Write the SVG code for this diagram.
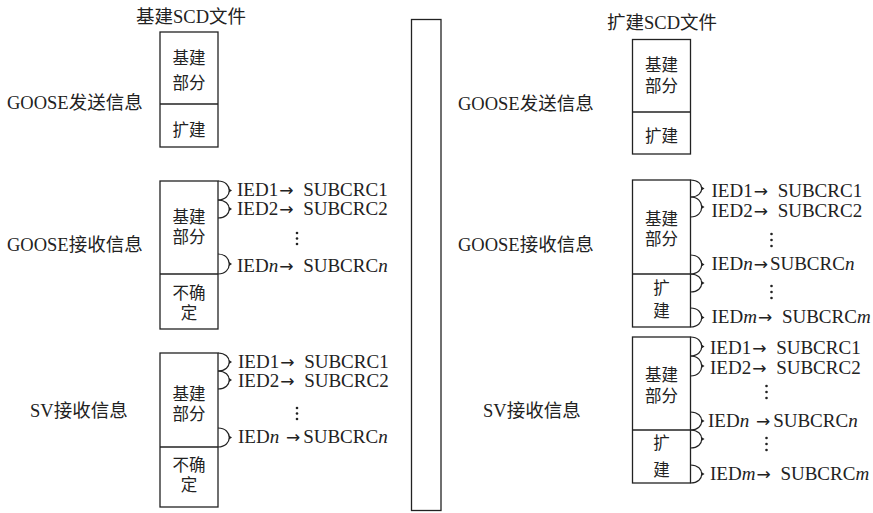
<svg xmlns="http://www.w3.org/2000/svg" width="873" height="513" viewBox="0 0 873 513">
<style>
.bg{fill:#fff}
.box{fill:#fff;stroke:#222;stroke-width:1.3}
.ln{fill:none;stroke:#222;stroke-width:1.3}
.br{fill:none;stroke:#222;stroke-width:1.2}
.tip{fill:#222}
.dot{fill:#222}
text{font-family:"Liberation Serif","Times New Roman","DejaVu Serif","Noto Sans CJK SC",serif;fill:#222}
.lab{font-size:18.5px}
.bx{font-size:16.5px;text-anchor:middle}
.ied{font-size:19px}
.it{font-style:italic}
.ar{font-family:"DejaVu Sans",sans-serif;font-size:17px}
</style>
<defs>
<path id="tipL" d="M0,-2 L3,0 L0,2 z"/>
</defs>
<rect class="bg" x="0" y="0" width="873" height="513"/>

<g id="title-left"><text class="lab" x="191" y="23" text-anchor="middle">基建SCD文件</text></g>
<g id="title-right"><text class="lab" x="662" y="29" text-anchor="middle">扩建SCD文件</text></g>

<g id="middle-bar"><rect class="box" x="411.5" y="19.5" width="29.5" height="491"/></g>

<g id="left-goose-send-label"><text class="lab" x="7" y="109">GOOSE发送信息</text></g>
<g id="left-goose-recv-label"><text class="lab" x="7" y="251">GOOSE接收信息</text></g>
<g id="left-sv-recv-label"><text class="lab" x="30" y="417">SV接收信息</text></g>
<g id="right-goose-send-label"><text class="lab" x="458" y="110">GOOSE发送信息</text></g>
<g id="right-goose-recv-label"><text class="lab" x="458" y="251">GOOSE接收信息</text></g>
<g id="right-sv-recv-label"><text class="lab" x="483" y="417">SV接收信息</text></g>

<g id="left-goose-send">
<rect class="box" x="160" y="32" width="58" height="115"/>
<line class="ln" x1="160" y1="104" x2="218" y2="104"/>
<text class="bx" x="189" y="64">基建</text>
<text class="bx" x="189" y="89">部分</text>
<text class="bx" x="189" y="136">扩建</text>
</g>

<g id="left-goose-recv">
<rect class="box" x="160" y="181" width="58" height="148"/>
<line class="ln" x1="160" y1="274" x2="218" y2="274"/>
<text class="bx" x="189" y="222.5">基建</text>
<text class="bx" x="189" y="242.5">部分</text>
<text class="bx" x="189" y="299">不确</text>
<text class="bx" x="189" y="319">定</text>
</g>

<g id="left-sv-recv">
<rect class="box" x="160" y="353" width="58" height="154"/>
<line class="ln" x1="160" y1="447" x2="218" y2="447"/>
<text class="bx" x="189" y="400">基建</text>
<text class="bx" x="189" y="420">部分</text>
<text class="bx" x="189" y="471">不确</text>
<text class="bx" x="189" y="491">定</text>
</g>

<g id="right-goose-send">
<rect class="box" x="632.5" y="39.5" width="58" height="114.5"/>
<line class="ln" x1="632.5" y1="112" x2="690.5" y2="112"/>
<text class="bx" x="661.5" y="71">基建</text>
<text class="bx" x="661.5" y="92">部分</text>
<text class="bx" x="661.5" y="142">扩建</text>
</g>

<g id="right-goose-recv">
<rect class="box" x="632.5" y="180" width="58" height="147"/>
<line class="ln" x1="632.5" y1="274" x2="690.5" y2="274"/>
<text class="bx" x="661.5" y="225">基建</text>
<text class="bx" x="661.5" y="245">部分</text>
<text class="bx" x="661.5" y="294">扩</text>
<text class="bx" x="661.5" y="317">建</text>
</g>

<g id="right-sv-recv">
<rect class="box" x="632.5" y="337" width="58" height="146"/>
<line class="ln" x1="632.5" y1="430" x2="690.5" y2="430"/>
<text class="bx" x="661.5" y="381">基建</text>
<text class="bx" x="661.5" y="402">部分</text>
<text class="bx" x="661.5" y="449">扩</text>
<text class="bx" x="661.5" y="476">建</text>
</g>

<g id="left-goose-map">
<text class="ied" x="237" y="196">IED1<tspan class="ar" dx="1">→</tspan><tspan dx="5"> SUBCRC1</tspan></text>
<text class="ied" x="237" y="215">IED2<tspan class="ar" dx="1">→</tspan><tspan dx="5"> SUBCRC2</tspan></text>
<text class="ied" x="237" y="272">IED<tspan class="it">n</tspan><tspan class="ar" dx="1">→</tspan><tspan dx="5"> SUBCRC</tspan><tspan class="it">n</tspan></text>
<circle class="dot" cx="297" cy="233" r="1.3"/><circle class="dot" cx="297" cy="238.5" r="1.3"/><circle class="dot" cx="297" cy="244" r="1.3"/>
</g>
<g id="left-sv-map">
<text class="ied" x="238" y="368">IED1<tspan class="ar" dx="1">→</tspan><tspan dx="5"> SUBCRC1</tspan></text>
<text class="ied" x="238" y="387">IED2<tspan class="ar" dx="1">→</tspan><tspan dx="5"> SUBCRC2</tspan></text>
<text class="ied" x="238" y="443">IED<tspan class="it">n</tspan><tspan dx="2"> </tspan><tspan class="ar">→</tspan><tspan dx="3">SUBCRC</tspan><tspan class="it">n</tspan></text>
<circle class="dot" cx="297" cy="408" r="1.3"/><circle class="dot" cx="297" cy="413.5" r="1.3"/><circle class="dot" cx="297" cy="419" r="1.3"/>
</g>
<g id="right-goose-map">
<text class="ied" x="711.5" y="197">IED1<tspan class="ar" dx="1">→</tspan><tspan dx="5"> SUBCRC1</tspan></text>
<text class="ied" x="711.5" y="217">IED2<tspan class="ar" dx="1">→</tspan><tspan dx="5"> SUBCRC2</tspan></text>
<text class="ied" x="711.5" y="270">IED<tspan class="it">n</tspan><tspan class="ar" dx="1">→</tspan><tspan dx="2">SUBCRC</tspan><tspan class="it">n</tspan></text>
<text class="ied" x="711.5" y="323">IED<tspan class="it">m</tspan><tspan class="ar" dx="1">→</tspan><tspan dx="5"> SUBCRC</tspan><tspan class="it">m</tspan></text>
<circle class="dot" cx="771.5" cy="234" r="1.3"/><circle class="dot" cx="771.5" cy="240" r="1.3"/><circle class="dot" cx="771.5" cy="246" r="1.3"/>
<circle class="dot" cx="771.5" cy="286" r="1.3"/><circle class="dot" cx="771.5" cy="292" r="1.3"/><circle class="dot" cx="771.5" cy="298" r="1.3"/>
</g>
<g id="right-sv-map">
<text class="ied" x="710" y="354">IED1<tspan class="ar" dx="1">→</tspan><tspan dx="5"> SUBCRC1</tspan></text>
<text class="ied" x="710" y="374">IED2<tspan class="ar" dx="1">→</tspan><tspan dx="5"> SUBCRC2</tspan></text>
<text class="ied" x="708" y="427">IED<tspan class="it">n</tspan><tspan dx="2"> </tspan><tspan class="ar">→</tspan><tspan dx="3">SUBCRC</tspan><tspan class="it">n</tspan></text>
<text class="ied" x="710" y="480">IED<tspan class="it">m</tspan><tspan class="ar" dx="1">→</tspan><tspan dx="5"> SUBCRC</tspan><tspan class="it">m</tspan></text>
<circle class="dot" cx="766.5" cy="386" r="1.3"/><circle class="dot" cx="766.5" cy="392" r="1.3"/><circle class="dot" cx="766.5" cy="398" r="1.3"/>
<circle class="dot" cx="766.5" cy="438" r="1.3"/><circle class="dot" cx="766.5" cy="444" r="1.3"/><circle class="dot" cx="766.5" cy="450" r="1.3"/>
</g>

<g id="connectors">
<path class="br" d="M218,181 C233,181 233,200 218,200"/>
<path class="br" d="M218,200 C233,200 233,218 218,218"/>
<path class="br" d="M218,254 C233,254 233,274 218,274"/>
<path class="br" d="M218,353 C233,353 233,371 218,371"/>
<path class="br" d="M218,371 C233,371 233,389 218,389"/>
<path class="br" d="M218,428 C233,428 233,447 218,447"/>
<path class="br" d="M690.5,180 C705.5,180 705.5,197 690.5,197"/>
<path class="br" d="M690.5,197 C705.5,197 705.5,217 690.5,217"/>
<path class="br" d="M690.5,255 C705.5,255 705.5,274 690.5,274"/>
<path class="br" d="M690.5,274 C705.5,274 705.5,292 690.5,292"/>
<path class="br" d="M690.5,308 C705.5,308 705.5,327 690.5,327"/>
<path class="br" d="M690.5,337 C705.5,337 705.5,356 690.5,356"/>
<path class="br" d="M690.5,356 C705.5,356 705.5,376 690.5,376"/>
<path class="br" d="M690.5,412 C705.5,412 705.5,430 690.5,430"/>
<path class="br" d="M690.5,430 C705.5,430 705.5,448 690.5,448"/>
<path class="br" d="M690.5,465 C705.5,465 705.5,483 690.5,483"/>
<use href="#tipL" class="tip" x="229" y="190.5"/>
<use href="#tipL" class="tip" x="229" y="209"/>
<use href="#tipL" class="tip" x="229" y="264"/>
<use href="#tipL" class="tip" x="229" y="362"/>
<use href="#tipL" class="tip" x="229" y="380"/>
<use href="#tipL" class="tip" x="229" y="437.5"/>
<use href="#tipL" class="tip" x="701.5" y="188.5"/>
<use href="#tipL" class="tip" x="701.5" y="207"/>
<use href="#tipL" class="tip" x="701.5" y="264.5"/>
<use href="#tipL" class="tip" x="701.5" y="283"/>
<use href="#tipL" class="tip" x="701.5" y="317.5"/>
<use href="#tipL" class="tip" x="701.5" y="346.5"/>
<use href="#tipL" class="tip" x="701.5" y="366"/>
<use href="#tipL" class="tip" x="701.5" y="421"/>
<use href="#tipL" class="tip" x="701.5" y="439"/>
<use href="#tipL" class="tip" x="701.5" y="474"/>
</g>
</svg>
